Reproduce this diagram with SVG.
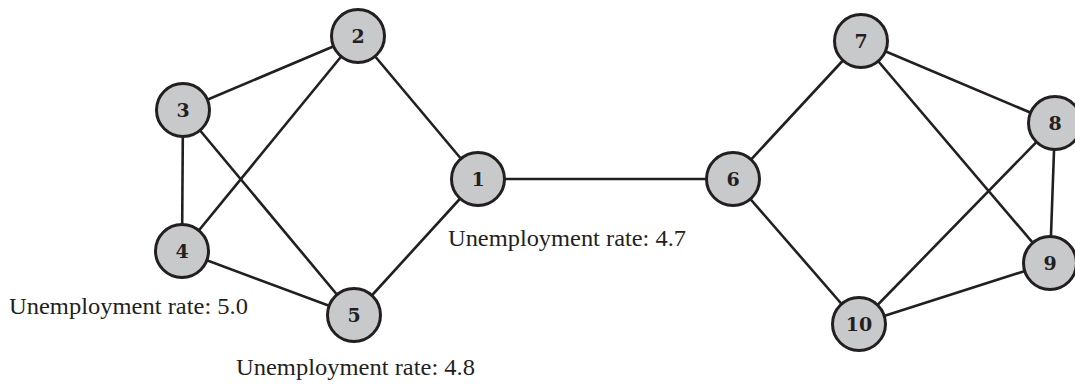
<svg xmlns="http://www.w3.org/2000/svg" width="1075" height="384" viewBox="0 0 1075 384">
<style>
.edge{stroke:#231f20;stroke-width:2.6;fill:none}
.node circle{fill:#c8c9cb;stroke:#231f20;stroke-width:3}
.node text{font-family:"DejaVu Serif","Liberation Serif",serif;font-weight:bold;font-size:19px;fill:#231f20;text-anchor:middle}
.lbl{font-family:"Liberation Serif",serif;font-size:23px;fill:#231f20}
</style>
<rect width="1075" height="384" fill="#ffffff"/>
<g id="connectors">
<line class="edge" x1="358" y1="36" x2="183" y2="110"/>
<line class="edge" x1="358" y1="36" x2="182" y2="251"/>
<line class="edge" x1="358" y1="36" x2="478" y2="179"/>
<line class="edge" x1="183" y1="110" x2="182" y2="251"/>
<line class="edge" x1="183" y1="110" x2="354" y2="315"/>
<line class="edge" x1="182" y1="251" x2="354" y2="315"/>
<line class="edge" x1="354" y1="315" x2="478" y2="179"/>
<line class="edge" x1="478" y1="179" x2="733" y2="179"/>
<line class="edge" x1="733" y1="179" x2="861" y2="41"/>
<line class="edge" x1="733" y1="179" x2="859" y2="324"/>
<line class="edge" x1="861" y1="41" x2="1055" y2="123"/>
<line class="edge" x1="861" y1="41" x2="1050" y2="263"/>
<line class="edge" x1="1055" y1="123" x2="1050" y2="263"/>
<line class="edge" x1="1055" y1="123" x2="859" y2="324"/>
<line class="edge" x1="1050" y1="263" x2="859" y2="324"/>
</g>
<g id="n1" class="node"><circle cx="478" cy="179" r="26.5"/><text x="478" y="186">1</text></g>
<g id="n2" class="node"><circle cx="358" cy="36" r="26.5"/><text x="358" y="43">2</text></g>
<g id="n3" class="node"><circle cx="183" cy="110" r="26.5"/><text x="183" y="117">3</text></g>
<g id="n4" class="node"><circle cx="182" cy="251" r="26.5"/><text x="182" y="258">4</text></g>
<g id="n5" class="node"><circle cx="354" cy="315" r="26.5"/><text x="354" y="322">5</text></g>
<g id="n6" class="node"><circle cx="733" cy="179" r="26.5"/><text x="733" y="186">6</text></g>
<g id="n7" class="node"><circle cx="861" cy="41" r="26.5"/><text x="861" y="48">7</text></g>
<g id="n8" class="node"><circle cx="1055" cy="123" r="26.5"/><text x="1055" y="130">8</text></g>
<g id="n9" class="node"><circle cx="1050" cy="263" r="26.5"/><text x="1050" y="270">9</text></g>
<g id="n10" class="node"><circle cx="859" cy="324" r="26.5"/><text x="859" y="331">10</text></g>
<g id="labels">
<text class="lbl" x="448" y="246" textLength="238" lengthAdjust="spacingAndGlyphs">Unemployment rate: 4.7</text>
<text class="lbl" x="9" y="314" textLength="239" lengthAdjust="spacingAndGlyphs">Unemployment rate: 5.0</text>
<text class="lbl" x="236" y="375" textLength="239" lengthAdjust="spacingAndGlyphs">Unemployment rate: 4.8</text>
</g>
</svg>
